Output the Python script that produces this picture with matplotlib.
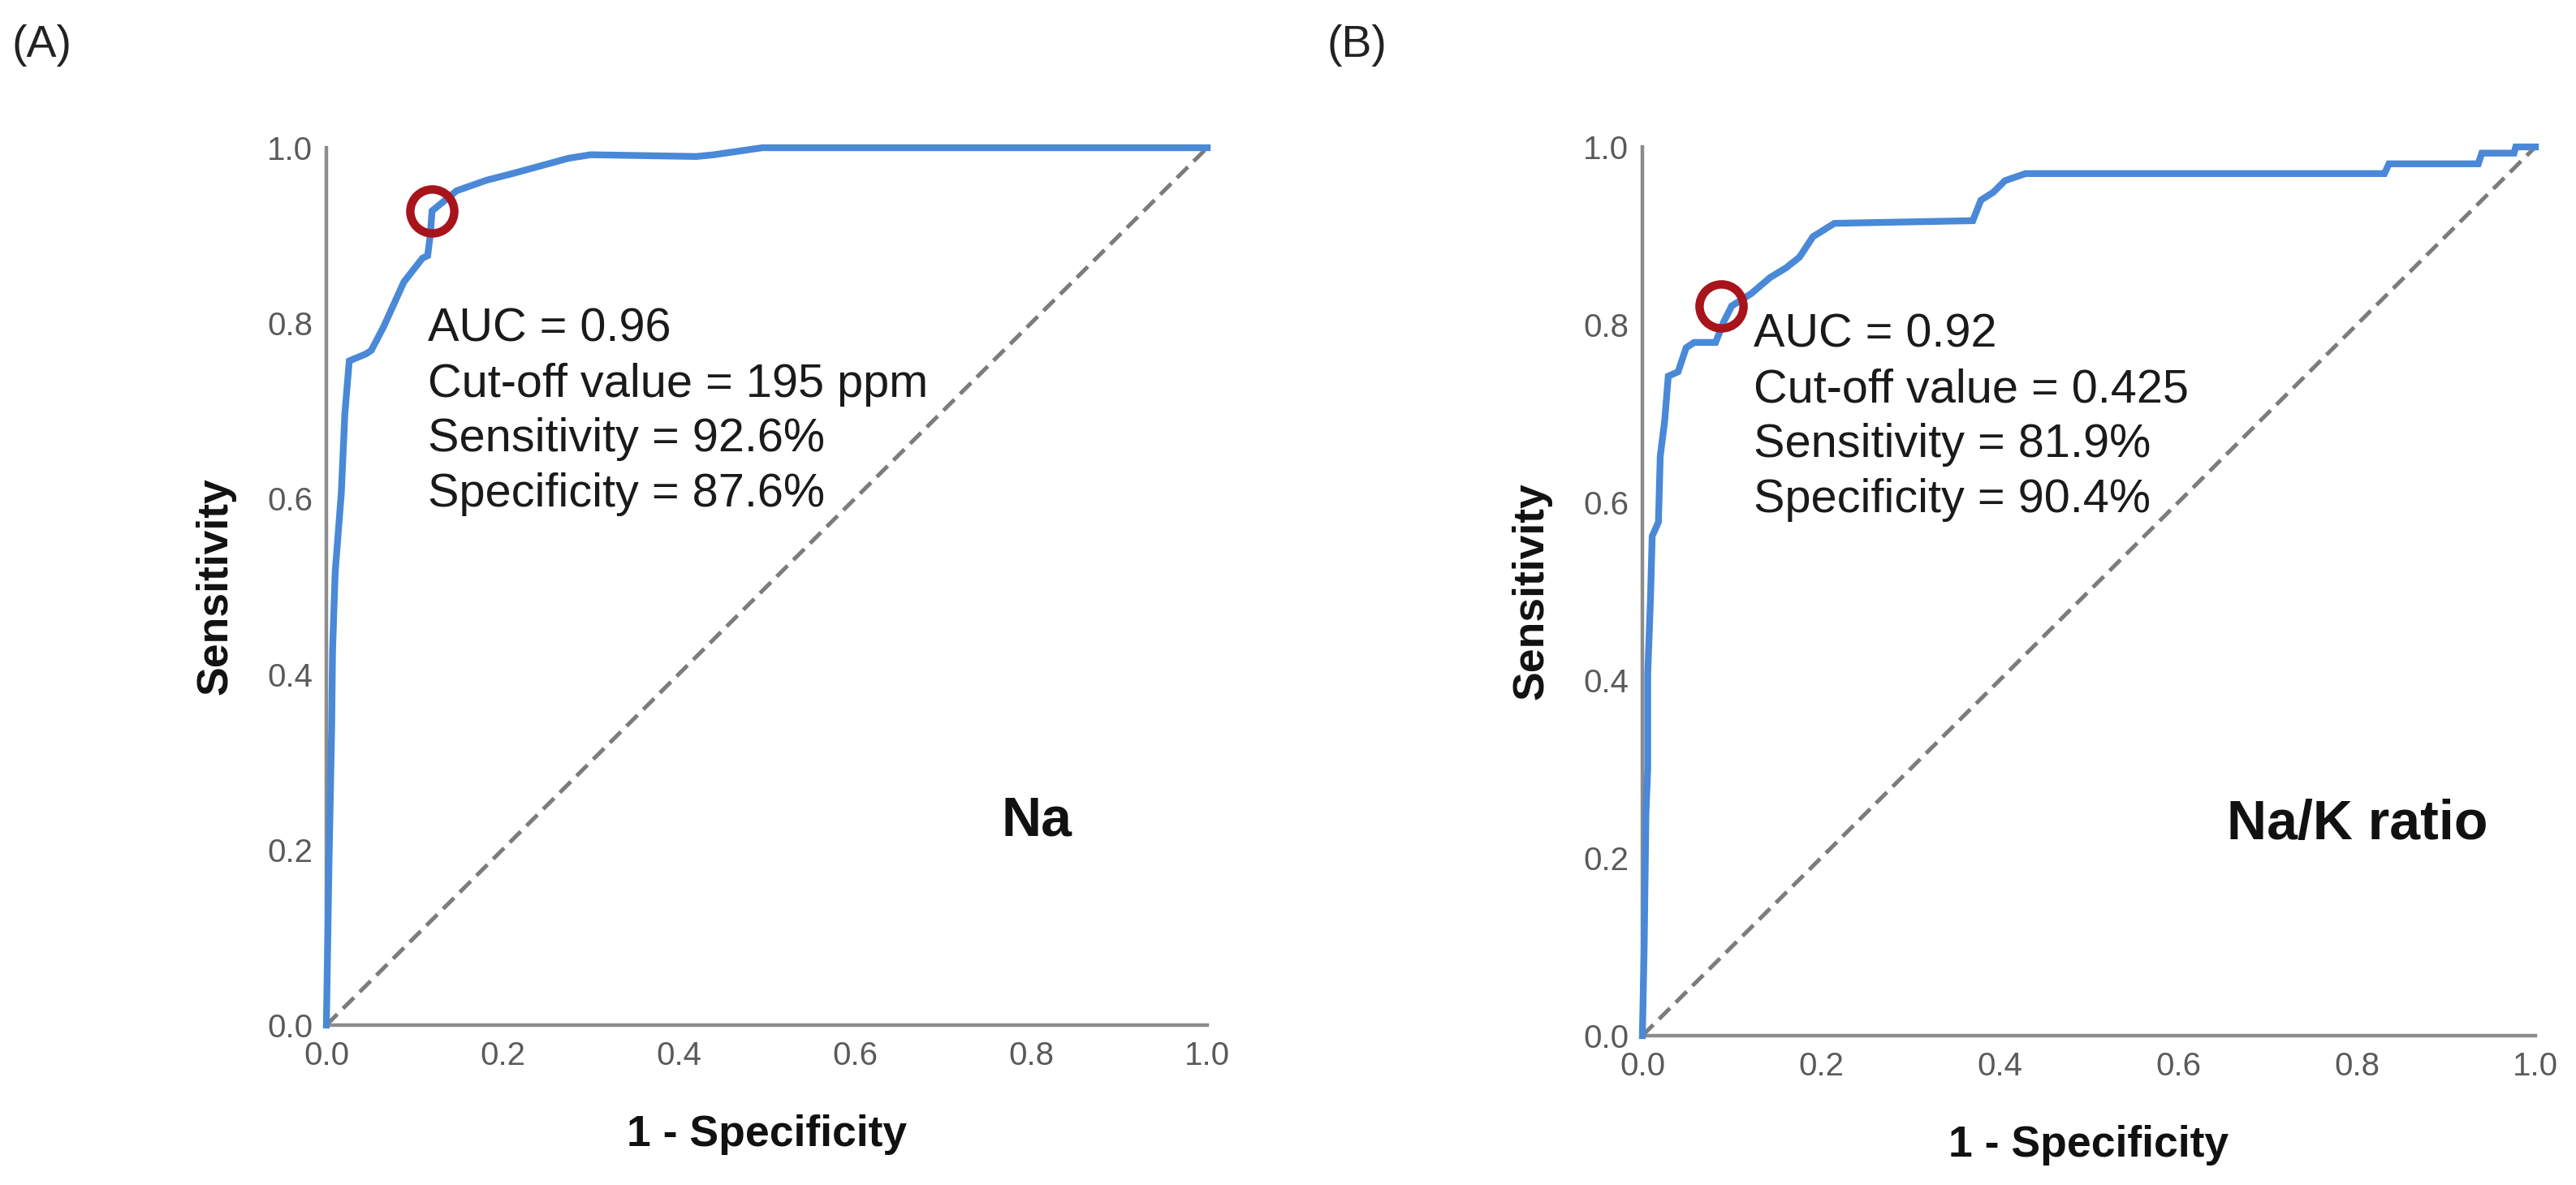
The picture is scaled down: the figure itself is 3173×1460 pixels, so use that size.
import matplotlib.pyplot as plt

# ROC curve A (Na)
na_fpr = [0.0, 0.003, 0.006, 0.007, 0.010, 0.017, 0.021, 0.026, 0.033, 0.045, 0.051,
          0.065, 0.088, 0.109, 0.115, 0.118, 0.120, 0.148, 0.182, 0.213, 0.275,
          0.300, 0.420, 0.440, 0.495, 1.0]
na_tpr = [0.0, 0.186, 0.338, 0.426, 0.516, 0.607, 0.697, 0.757, 0.760, 0.765, 0.769,
          0.796, 0.847, 0.874, 0.877, 0.901, 0.928, 0.951, 0.963, 0.971, 0.988,
          0.992, 0.990, 0.992, 1.0, 1.0]
na_cut = (0.120, 0.928)

# ROC curve B (Na/K ratio)
nak_fpr = [0.0, 0.002, 0.004, 0.006, 0.006, 0.009, 0.011, 0.018, 0.020, 0.025, 0.029,
           0.040, 0.049, 0.058, 0.082, 0.091, 0.100, 0.122, 0.143, 0.161, 0.176,
           0.191, 0.215, 0.370, 0.379, 0.393, 0.406, 0.429, 0.831, 0.836, 0.936,
           0.940, 0.976, 0.978, 1.0]
nak_tpr = [0.0, 0.10, 0.25, 0.301, 0.407, 0.489, 0.562, 0.578, 0.652, 0.692, 0.742,
           0.747, 0.774, 0.780, 0.780, 0.803, 0.821, 0.835, 0.853, 0.864, 0.876,
           0.899, 0.914, 0.917, 0.940, 0.949, 0.962, 0.970, 0.970, 0.981, 0.981,
           0.993, 0.993, 1.0, 1.0]
nak_cut = (0.088, 0.821)

panels = [
    ('(A)', na_fpr, na_tpr, na_cut,
     'AUC = 0.96\nCut-off value = 195 ppm\nSensitivity = 92.6%\nSpecificity = 87.6%',
     'Na', [402, 182, 1487, 1263], (0.115, 0.818), (0.806, 0.233)),
    ('(B)', nak_fpr, nak_tpr, nak_cut,
     'AUC = 0.92\nCut-off value = 0.425\nSensitivity = 81.9%\nSpecificity = 90.4%',
     'Na/K ratio', [2023, 181, 3123, 1276], (0.125, 0.813), (0.801, 0.237)),
]
ticks = [0.0, 0.2, 0.4, 0.6, 0.8, 1.0]
tick_labels = ['0.0', '0.2', '0.4', '0.6', '0.8', '1.0']

plt.rcParams['font.family'] = ['Liberation Sans', 'DejaVu Sans']

W, H = 3173, 1460
fig = plt.figure(figsize=(W / 100, H / 100), dpi=100)
fig.patch.set_facecolor('white')

for i, (tag, fpr, tpr, cut, note, name, box, note_xy, name_xy) in enumerate(panels):
    x0, y0, x1, y1 = box
    ax = fig.add_axes([x0 / W, (H - y1) / H, (x1 - x0) / W, (y1 - y0) / H])

    # reference diagonal
    ax.plot([0, 1], [0, 1], color='#7c7c7c', lw=3.6, dashes=(3.8, 2.0), clip_on=False, zorder=2)
    ax.plot(fpr, tpr, color='#4a88d8', lw=6, solid_joinstyle='miter', clip_on=False, zorder=3)
    # cut-off point
    ax.plot([cut[0]], [cut[1]], 'o', ms=39, mfc='none', mec='#a8141c', mew=7.5,
            clip_on=False, zorder=4)

    ax.set_xlim(0, 1)
    ax.set_ylim(0, 1)
    ax.set_xticks(ticks)
    ax.set_yticks(ticks)
    ax.set_xticklabels(tick_labels)
    ax.set_yticklabels(tick_labels)
    ax.tick_params(length=0, labelsize=29, labelcolor='#5a5a5a')
    ax.tick_params(axis='y', pad=12)
    ax.tick_params(axis='x', pad=14)

    ax.spines['top'].set_visible(False)
    ax.spines['right'].set_visible(False)
    for s in ['left', 'bottom']:
        ax.spines[s].set_color('#8c8c8c')
        ax.spines[s].set_linewidth(3.2)

    ax.set_xlabel('1 - Specificity', fontsize=38.5, fontweight='bold', color='#111111', labelpad=38)
    ax.set_ylabel('Sensitivity', fontsize=38.5, fontweight='bold', color='#111111', labelpad=28)

    ax.text(note_xy[0], note_xy[1], note, transform=ax.transAxes, fontsize=41.5,
            color='#1a1a1a', va='top', ha='left', linespacing=1.33)

    ax.text(name_xy[0], name_xy[1], name, transform=ax.transAxes, fontsize=49,
            fontweight='bold', color='#111111', ha='center', va='center')

    fig.text((15 if i == 0 else 1635) / W, 1 - 56 / H, tag, fontsize=40,
             color='#222222', ha='left', va='center')

fig.savefig('out.png', dpi=100, facecolor='white')
